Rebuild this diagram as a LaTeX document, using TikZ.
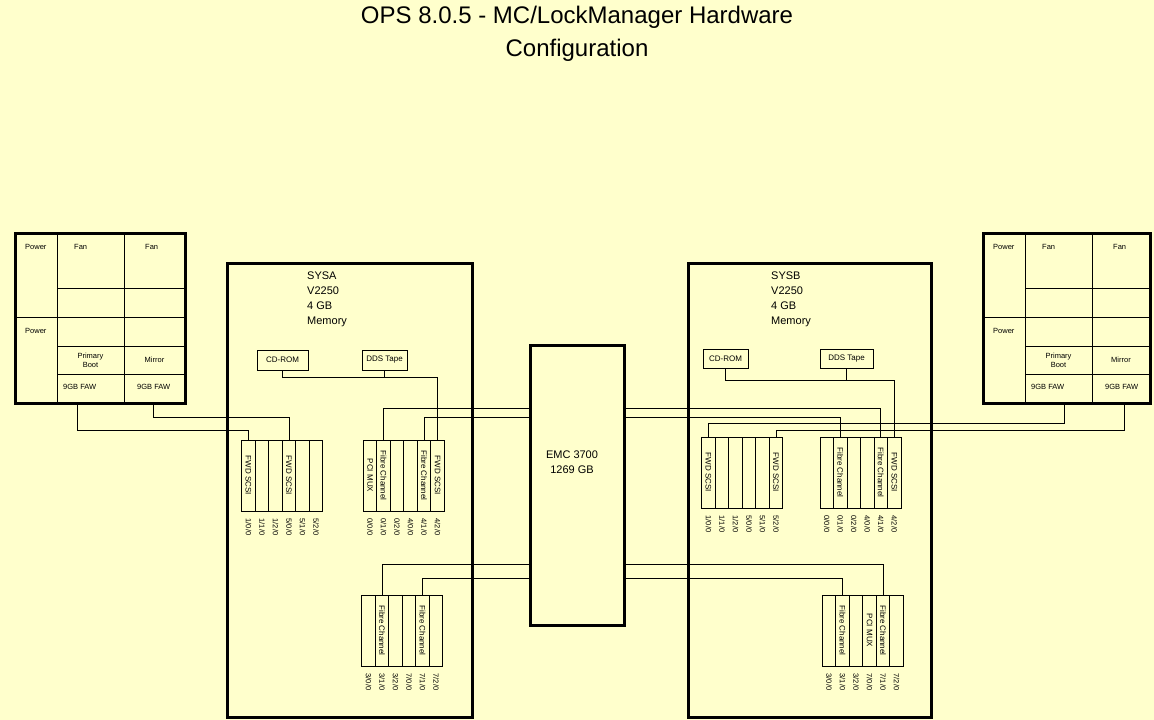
\documentclass[tikz,border=0pt]{standalone}
\usepackage{fontspec}
\setmainfont{Liberation Sans}
\definecolor{paper}{HTML}{FFFFCC}
\tikzset{
  diskbox/.style={draw=black, line width=3pt},
  cellline/.style={draw=black, line width=0.9pt},
  sysbox/.style={draw=black, line width=3pt, inner sep=0pt},
  devbox/.style={draw=black, line width=0.9pt, inner sep=0pt, minimum height=20pt, font=\fontsize{8}{9}\selectfont},
  slotbox/.style={draw=black, line width=0.9pt, inner sep=0pt, minimum width=13.5pt, minimum height=71pt},
  cardtxt/.style={rotate=-90, inner sep=0pt, font=\fontsize{8}{9}\selectfont},
  pathtxt/.style={rotate=-90, anchor=west, inner sep=0pt, font=\fontsize{7.5}{9}\selectfont},
  celltxt/.style={inner sep=0pt, align=center, font=\fontsize{7.5}{9}\selectfont},
  systxt/.style={inner sep=0pt, align=left, anchor=north west, font=\fontsize{11}{15}\selectfont},
  wire/.style={draw=black, line width=0.9pt},
}
\begin{document}
\begin{tikzpicture}[x=1pt, y=-1pt]
\fill[paper] (0,0) rectangle (1154,720);
\node[align=center, font=\fontsize{24}{33}\selectfont] (title) at (577,34) {OPS 8.0.5 - MC/LockManager Hardware\\Configuration};
% disk cabinets
\foreach \bx/\bw/\side in {15/170/l, 983/167/r} {
\begin{scope}[shift={(\bx,0)}]
  \draw[cellline] (42,233) -- (42,403) (109,233) -- (109,403)
    (42,288) -- (\bw,288) (0,317) -- (\bw,317) (42,346) -- (\bw,346) (42,374) -- (\bw,374);
  \draw[diskbox] (0,233) rectangle (\bw,403);
  \node[celltxt, anchor=west] (\side pwa) at (10,247) {Power};
  \node[celltxt, anchor=west] (\side fana) at (59,247) {Fan};
  \node[celltxt, anchor=west] (\side fanb) at (130,247) {Fan};
  \node[celltxt, anchor=west] (\side pwb) at (10,331) {Power};
  \node[celltxt] (\side prim) at (75.5,360) {Primary\\Boot};
  \node[celltxt] (\side mir) at ({(109+\bw)/2},360) {Mirror};
  \node[celltxt, anchor=west] (\side fawa) at (48,387) {9GB FAW};
  \node[celltxt, anchor=west] (\side fawb) at (122,387) {9GB FAW};
\end{scope}
}
\coordinate (lboot) at (77,403);
\coordinate (lmirr) at (153,403);
\coordinate (rboot) at (1064,403);
\coordinate (rmirr) at (1124,403);
% systems and storage
\node[sysbox, minimum width=245pt, minimum height=454pt] (sysa) at (349.5,490) {};
\node[sysbox, minimum width=243pt, minimum height=454pt] (sysb) at (809.5,490) {};
\node[sysbox, minimum width=94pt, minimum height=280pt] (emc) at (577,485) {};
\node[align=center, inner sep=0pt, font=\fontsize{11}{15}\selectfont] (emctxt) at (572,462) {EMC 3700\\1269 GB};
\node[systxt] (sysatxt) at (307,272) {SYSA\\V2250\\4 GB\\Memory};
\node[systxt] (sysbtxt) at (771,272) {SYSB\\V2250\\4 GB\\Memory};
\node[devbox, minimum width=51pt] (acd) at (282.5,360) {CD-ROM};
\node[devbox, minimum width=45pt] (adds) at (384.5,360) {DDS Tape};
\node[devbox, minimum width=45pt, minimum height=19pt] (bcd) at (725.5,358.5) {CD-ROM};
\node[devbox, minimum width=53pt, minimum height=19pt] (bdds) at (846.5,358.5) {DDS Tape};
% card cages
\foreach \g/\x/\y/\ia/\ib in {a1/241.7/440/1/5, a2/363.3/440/0/4, a3/361.7/595/3/7,
                              b1/701.7/437/1/5, b2/820/437/0/4, b3/822.3/595/3/7} {
  \foreach \a [count=\k from 0] in {\ia,\ib} {
    \foreach \b in {0,1,2} {
      \pgfmathtruncatemacro{\n}{3*\k+\b+1}
      \node[slotbox] (\g-\n) at ({\x+13.5*(\n-0.5)},{\y+35.5}) {};
      \node[pathtxt] at ([yshift=-7pt]\g-\n.south) {\a/\b/0};
    }
  }
}
\node[cardtxt] at (a1-1) {FWD SCSI};
\node[cardtxt] at (a1-4) {FWD SCSI};
\node[cardtxt] at (a2-1) {PCI MUX};
\node[cardtxt] at (a2-2) {Fibre Channel};
\node[cardtxt] at (a2-5) {Fibre Channel};
\node[cardtxt] at (a2-6) {FWD SCSI};
\node[cardtxt] at (a3-2) {Fibre Channel};
\node[cardtxt] at (a3-5) {Fibre Channel};
\node[cardtxt] at (b1-1) {FWD SCSI};
\node[cardtxt] at (b1-6) {FWD SCSI};
\node[cardtxt] at (b2-2) {Fibre Channel};
\node[cardtxt] at (b2-5) {Fibre Channel};
\node[cardtxt] at (b2-6) {FWD SCSI};
\node[cardtxt] at (b3-2) {Fibre Channel};
\node[cardtxt] at (b3-4) {PCI MUX};
\node[cardtxt] at (b3-5) {Fibre Channel};
% cabling
\draw[wire] (lboot) -- ++(0,27) -| (a1-1.north);
\draw[wire] (lmirr) -- ++(0,14) -| (a1-4.north);
\draw[wire] (acd.south) -- ++(0,7) -| (a2-6.north);
\draw[wire] (adds.south) -- ++(0,7);
\draw[wire] (a2-2.north) |- (emc.west |- 0,408);
\draw[wire] (a2-5.north) |- (emc.west |- 0,417);
\draw[wire] (a3-2.north) |- (emc.west |- 0,564);
\draw[wire] (a3-5.north) |- (emc.west |- 0,578);
\draw[wire] (rboot) -- ++(0,20) -| (b1-1.north);
\draw[wire] (rmirr) -- ++(0,27) -| (b1-6.north);
\draw[wire] (bcd.south) -- ++(0,12) -| (b2-6.north);
\draw[wire] (bdds.south) -- ++(0,12);
\draw[wire] (b2-2.north) |- (emc.east |- 0,417);
\draw[wire] (b2-5.north) |- (emc.east |- 0,408);
\draw[wire] (b3-2.north) |- (emc.east |- 0,578);
\draw[wire] (b3-5.north) |- (emc.east |- 0,564);
\end{tikzpicture}
\end{document}
